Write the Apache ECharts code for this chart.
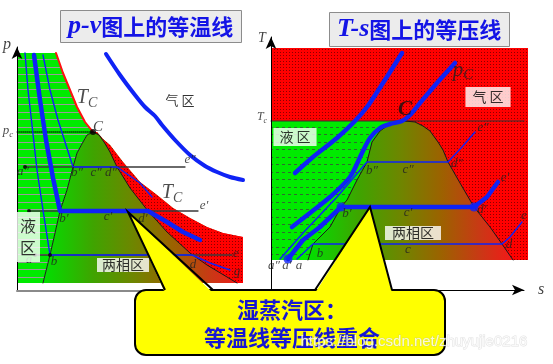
<!DOCTYPE html>
<html><head><meta charset="utf-8">
<script src="https://cdn.jsdelivr.net/npm/echarts@6/dist/echarts.min.js"></script>
<style>html,body{margin:0;padding:0;background:#fff}#c{width:553px;height:364px}</style>
</head><body><div id="c"></div>
<script>
// ================= p-v diagram data (v, p) =================
const pvTcAbove = [[39,238],[46,218],[53,201],[60,184],[68,169],[76,159]];
const pvTcBelow = [[76,159],[80,159],[86,152],[93,146],[106,129],[123,109],[140,96],[156,83],[173,73],[190,64],[206,58],[226,54]];
const pvDomeLeft = [[76,159],[70,156],[66,149],[60,138],[56,124],[50,101],[43,80],[33,36],[26,8]];
const pvDomeRight = [[76,159],[82,156],[87,149],[93,139],[100,124],[113,103],[131,80],[150,59],[173,38],[190,26],[220,8]];
const pvBounds = {vMin:0, vMax:226, pMin:8, pMax:238};
const pvCriticalP = 159;
const pvIsobarP = [124, 80, 36];
const pvIsobarStart = [8, 12, 18];
const pvIsobarEnd = [168, 181, 215];
const pvIsoT1 = [[8,238],[11,201],[15,166],[20,121],[26,81],[33,36],[175,36],[193,28],[213,21]];
const pvIsoT2 = [[17,236],[23,191],[29,151],[36,113],[43,80],[131,80],[150,69],[166,59],[183,51]];
const pvIsoT3 = [[26,236],[33,201],[41,171],[49,146],[56,124],[100,124],[123,108],[135,94]];
const pvIsoHigh = [[89,237],[103,216],[118,196],[128,184],[138,175],[145,166],[158,151],[173,136],[188,125],[200,119],[213,114],[226,111]];
const pvDots = [[8,124],[12,80],[18,36],[33,36]];
const pvLabelText = ["a″","b″","c″","d″","e″","b′","c′","d′","e′","a","b","d","e","g"];
const pvLabelPos = [[6,119],[60,118],[79,118],[94,118],[173,131],[47,72],[91,74],[126,72],[187,85],[12,31],[37,29],[176,26],[219,37],[220,19]];

// ================= T-s diagram data (s, T) =================
const tsRegionS = [0, 257];
const tsRegionT = [30, 242];
const tsCriticalT = 169;
const tsDomeLeft = [[134,169],[124,168],[116,164],[109,159],[101,148],[96,128],[86,110],[76,90],[70,83],[59,63],[42,46],[37,30]];
const tsDomeRight = [[134,169],[144,168],[152,164],[159,159],[167,148],[172,140],[177,128],[189,107],[203,83],[219,63],[231,46],[242,30]];
const tsIsoHigh = [[131,237],[112,207],[96,183],[84,169],[66,152],[42,133],[24,117]];
const tsIsoPc = [[184,227],[166,207],[149,187],[139,175],[131,169],[119,166],[109,162],[99,152],[91,137],[79,113],[59,93],[39,77],[21,63]];
const tsIsoP1 = [[17,31],[32,50],[49,63],[70,83],[203,83],[216,93],[227,108]];
const tsIsoP2 = [[9,31],[32,57],[66,93],[96,128],[177,128],[191,143],[204,158]];
const tsIsoP3 = [[26,31],[42,46],[231,46],[239,53],[251,68]];
const tsDots = [[70,83],[203,83],[17,31]];
const tsLabelText = ["b″","c″","d″","e″","b′","c′","d′","e′","b","c","d","e","a″","a′","a"];
const tsLabelPos = [[101,119],[137,120],[186,126],[212,162],[76,76],[137,77],[211,80],[234,112],[49,36],[137,40],[238,45],[253,74],[3,24],[16,24],[28,24]];

// callout geometry (in panel data units)
const calloutBox = [[118,1],[428,-64]];          // p-v units
const calloutLeftTip = [[148,1],[111,79],[196,1]]; // p-v units
const calloutRightTip = [[44,0],[99,83],[121,0]];  // T-s units

// ---------------- styles ----------------
function makePattern(w,h,draw){const c=document.createElement('canvas');c.width=w;c.height=h;const g=c.getContext('2d');draw(g);return {image:c,repeat:'repeat'};}
const greenStripes = makePattern(4,15,g=>{g.fillStyle='#00ea00';g.fillRect(0,0,4,15);g.fillStyle='#9a9a9a';g.fillRect(0,7,4,1);g.fillRect(0,14,4,1);});
const greenDashes = makePattern(6,15,g=>{g.fillStyle='#00ea00';g.fillRect(0,0,6,15);g.fillStyle='#2f6a2f';g.fillRect(0,7,3,1);g.fillRect(0,14,3,1);});
const redDots = makePattern(3,3,g=>{g.fillStyle='#ff0000';g.fillRect(0,0,3,3);g.fillStyle='#8a0000';g.fillRect(1,1,1,1);});
const twoPhase = () => new echarts.graphic.LinearGradient(0,0,1,0,[
  {offset:0,color:'#00e000'},{offset:0.25,color:'#3fa400'},{offset:0.45,color:'#6e8600'},
  {offset:0.65,color:'#9c6200'},{offset:0.85,color:'#cc3616'},{offset:1,color:'#f41818'}]);
const BLUE = '#0f23f5';
const SERIF = '"Liberation Serif","DejaVu Serif",serif';
const CJK = '"Noto Sans CJK SC","Noto Sans",sans-serif';

function poly(gi, pts, fill, z){
  return {type:'custom', xAxisIndex:gi, yAxisIndex:gi, z, clip:false, silent:true, animation:false,
    data:[pts[0]],
    renderItem:(params, api)=>({type:'polygon', shape:{points:pts.map(p=>api.coord(p))}, style:{fill:fill}})};
}
function line(gi, pts, color, width, z, type, smooth){
  return {type:'line', xAxisIndex:gi, yAxisIndex:gi, data:pts, symbol:'none', smooth:smooth||false, silent:true, animation:false, z,
    lineStyle:{color, width, type:type||'solid', cap:'round', join:'round'}};
}
function dots(gi, pts, size, color, z){
  return {type:'scatter', xAxisIndex:gi, yAxisIndex:gi, data:pts, symbolSize:size, itemStyle:{color}, silent:true, animation:false, z, clip:false};
}
function labels(gi, items, z){
  return {type:'scatter', xAxisIndex:gi, yAxisIndex:gi, symbolSize:1, itemStyle:{color:'transparent'}, silent:true, animation:false, z:z||15, clip:false,
    data:items.map(it=>({value:it.pos, name:it.text, label:Object.assign({show:true, position:'inside', formatter:it.text, color:'#111'}, it.style||{})}))};
}
const primeStyle = {fontFamily:SERIF, fontStyle:'italic', fontSize:13, color:'#222'};
const boxStyle = (fs, pad) => ({fontFamily:CJK, fontSize:fs, color:'#000', backgroundColor:'#fff', padding:pad});
const subRich = (tSize, sSize) => ({t:{fontFamily:SERIF, fontStyle:'italic', fontSize:tSize, lineHeight:tSize+2, verticalAlign:'top', color:'#222'},
                                     s:{fontFamily:SERIF, fontStyle:'italic', fontSize:sSize, lineHeight:sSize+2, verticalAlign:'bottom', color:'#222'}});

// ---------------- build polygons ----------------
const pvGreen = [[pvBounds.vMin,pvBounds.pMax], ...pvTcAbove, ...pvDomeLeft.slice(1), [pvBounds.vMin,pvBounds.pMin]];
const pvRed = [...pvTcBelow, [pvBounds.vMax,pvBounds.pMin], ...pvDomeRight.slice().reverse()];
const pvGrad = [...pvDomeLeft, [pvBounds.vMax,pvBounds.pMin], ...pvTcBelow.slice().reverse()];
const tsRed = [[tsRegionS[0],tsRegionT[0]],[tsRegionS[1],tsRegionT[0]],[tsRegionS[1],tsRegionT[1]],[tsRegionS[0],tsRegionT[1]]];
const tsGreen = [[tsRegionS[0],tsCriticalT], ...tsDomeLeft, [tsRegionS[0],tsRegionT[0]]];
const tsGrad = [...tsDomeLeft, ...tsDomeRight.slice().reverse()];

const series = [];
// p-v fills
series.push(poly(0, pvGrad, twoPhase(), 1));
series.push(poly(0, pvRed, redDots, 2));
series.push(poly(0, pvGreen, greenStripes, 3));
// p-v lines
series.push(line(0, pvTcAbove, '#ff1010', 2, 4));
series.push(line(0, pvDomeLeft, '#1a1a1a', 1, 4));
series.push(line(0, pvDomeRight, '#1a1a1a', 1, 4));
series.push(line(0, [[0,pvCriticalP],[pvDomeLeft[0][0],pvCriticalP]], '#000', 1, 4, 'dotted'));
pvIsobarP.forEach((p,i)=>series.push(line(0, [[pvIsobarStart[i],p],[pvIsobarEnd[i],p]], '#3a3a3a', 1.3, 4)));
series.push(line(0, pvIsoT1, BLUE, 1.4, 5));
series.push(line(0, pvIsoT3, BLUE, 1.4, 5));
series.push(line(0, pvIsoT2, BLUE, 4.5, 5));
series.push(line(0, pvIsoHigh, BLUE, 4, 5, 'solid', 0.3));
series.push(dots(0, pvDots, 4, '#000', 6));
series.push(dots(0, [pvDomeLeft[0]], 6, '#000', 6));
// p-v labels
series.push(labels(0, pvLabelText.map((t,i)=>({text:t, pos:pvLabelPos[i], style:primeStyle}))));
series.push(labels(0, [
  {text:'p', pos:[-10,246], style:{fontFamily:SERIF, fontStyle:'italic', fontSize:16, color:'#111'}},
  {text:'{t|p}{s|c}', pos:[-9,159], style:{rich:subRich(13,9)}},
  {text:'{t|T}{s|C}', pos:[70,192], style:{rich:subRich(20,14)}},
  {text:'{t|T}{s|C}', pos:[155,97], style:{rich:subRich(20,14)}},
  {text:'C', pos:[81,164], style:{fontFamily:SERIF, fontStyle:'italic', fontSize:15, color:'#111'}},
  {text:'气 区', pos:[163,191], style:{fontFamily:CJK, fontSize:13, color:'#000'}},
  {text:'液\n区', pos:[11,54], style:Object.assign(boxStyle(16,[3,4]), {lineHeight:22})},
  {text:'两相区', pos:[106,26], style:boxStyle(14,[0,5])}
]));

// T-s fills
series.push(poly(1, tsRed, redDots, 1));
series.push(poly(1, tsGreen, greenDashes, 2));
series.push(poly(1, tsGrad, twoPhase(), 3));
// T-s lines
series.push(line(1, [[tsRegionS[0],tsCriticalT],[tsRegionS[1]-4,tsCriticalT]], '#333', 1, 4));
series.push(line(1, tsDomeLeft, '#1a1a1a', 1, 4));
series.push(line(1, tsDomeRight, '#1a1a1a', 1, 4));
series.push(line(1, tsIsoP2, BLUE, 1.4, 5));
series.push(line(1, tsIsoP3, BLUE, 1.4, 5));
series.push(line(1, tsIsoP1, BLUE, 4.5, 5));
series.push(line(1, tsIsoHigh, BLUE, 4.5, 5, 'solid', 0.3));
series.push(line(1, tsIsoPc, BLUE, 4.5, 5, 'solid', 0.3));
series.push(dots(1, tsDots, 9, BLUE, 6));
// T-s labels
series.push(labels(1, tsLabelText.map((t,i)=>({text:t, pos:tsLabelPos[i], style:primeStyle}))));
series.push(labels(1, [
  {text:'T', pos:[-9,252], style:{fontFamily:SERIF, fontStyle:'italic', fontSize:14, color:'#111'}},
  {text:'{t|T}{s|c}', pos:[-9,172], style:{rich:subRich(12,8)}},
  {text:'s', pos:[270,0], style:{fontFamily:SERIF, fontStyle:'italic', fontSize:16, color:'#111'}},
  {text:'{t|p}{s|C}', pos:[192,219], style:{rich:subRich(21,15)}},
  {text:'C', pos:[134,180], style:{fontFamily:SERIF, fontStyle:'italic', fontWeight:'bold', fontSize:21, color:'#111'}},
  {text:'气 区', pos:[217,193], style:boxStyle(14,[3,7])},
  {text:'液 区', pos:[24,153], style:boxStyle(14,[2,6])},
  {text:'两相区', pos:[142,57], style:boxStyle(14,[0,7])}
]));

// callout
series.push({type:'custom', xAxisIndex:0, yAxisIndex:0, z:20, clip:false, silent:true, animation:false, data:[calloutBox[0]],
  renderItem:(params, api)=>{
    const a = api.coord(calloutBox[0]), b = api.coord(calloutBox[1]);
    return {type:'group', children:[
      {type:'rect', shape:{x:a[0], y:a[1], width:b[0]-a[0], height:b[1]-a[1], r:11}, style:{fill:'#ffff00', stroke:'#000', lineWidth:2}},
      {type:'text', style:{text:'湿蒸汽区：\n等温线等压线重合', x:(a[0]+b[0])/2+2, y:(a[1]+b[1])/2+1, align:'center', verticalAlign:'middle',
        fill:'#1616d2', font:'bold 22px "Noto Sans CJK SC"', lineHeight:28}}
    ]};
  }});
function pointer(gi, tri){
  return {type:'custom', xAxisIndex:gi, yAxisIndex:gi, z:21, clip:false, silent:true, animation:false, data:[tri[1]],
    renderItem:(params, api)=>{
      const p = tri.map(q=>api.coord(q));
      const fillPts = [[p[0][0],p[0][1]+3], p[1], [p[2][0],p[2][1]+3]];
      return {type:'group', children:[
        {type:'polygon', shape:{points:fillPts}, style:{fill:'#ffff00'}},
        {type:'polyline', shape:{points:p}, style:{stroke:'#000', lineWidth:2, fill:null}}
      ]};
    }};
}
series.push(pointer(0, calloutLeftTip));
series.push(pointer(1, calloutRightTip));

const hiddenAxisBits = {axisLabel:{show:false}, axisTick:{show:false}, splitLine:{show:false}};
const option = {
  animation:false,
  backgroundColor:'#ffffff',
  title:[
    {text:'{i|p-v}{c|图上的等温线}', left:60, top:10, backgroundColor:'#ececec', borderColor:'#8c8c8c', borderWidth:1, padding:[3,9,3,8],
     textStyle:{rich:{i:{fontFamily:SERIF, fontStyle:'italic', fontWeight:'bold', fontSize:26, color:'#1414e6', lineHeight:27},
                      c:{fontFamily:CJK, fontWeight:'bold', fontSize:22, color:'#1414e6', lineHeight:27}}}},
    {text:'{i|T-s}{c|图上的等压线}', left:329, top:12, backgroundColor:'#ececec', borderColor:'#8c8c8c', borderWidth:1, padding:[4,8,4,8],
     textStyle:{rich:{i:{fontFamily:SERIF, fontStyle:'italic', fontWeight:'bold', fontSize:26, color:'#1414e6', lineHeight:27},
                      c:{fontFamily:CJK, fontWeight:'bold', fontSize:22, color:'#1414e6', lineHeight:27}}}}
  ],
  grid:[
    {left:17, top:47, width:246, height:244, containLabel:false},
    {left:271, top:37, width:253, height:253, containLabel:false}
  ],
  xAxis:[
    Object.assign({type:'value', gridIndex:0, min:0, max:246, z:10, axisLine:{show:true, lineStyle:{color:'#8a8a8a', width:2}}}, hiddenAxisBits),
    Object.assign({type:'value', gridIndex:1, min:0, max:253, z:10, axisLine:{show:true, symbol:['none','arrow'], symbolSize:[8,12], lineStyle:{color:'#000', width:1}}}, hiddenAxisBits)
  ],
  yAxis:[
    Object.assign({type:'value', gridIndex:0, min:0, max:244, z:10, axisLine:{show:true, symbol:['none','arrow'], symbolSize:[8,12], lineStyle:{color:'#000', width:1}}}, hiddenAxisBits),
    Object.assign({type:'value', gridIndex:1, min:0, max:253, z:10, axisLine:{show:true, symbol:['none','arrow'], symbolSize:[8,12], lineStyle:{color:'#000', width:1}}}, hiddenAxisBits)
  ],
  graphic:[
    {type:'text', left:300, top:334, z:100, silent:true,
     style:{text:'https://blog.csdn.net/zhuyujie0216', font:'15px "Liberation Sans"', fill:'rgba(255,255,255,0.8)', stroke:'rgba(170,170,170,0.35)', lineWidth:1}}
  ],
  series
};
const chart = echarts.init(document.getElementById('c'), null, {renderer:'canvas'});
chart.setOption(option);
</script>
</body></html>
